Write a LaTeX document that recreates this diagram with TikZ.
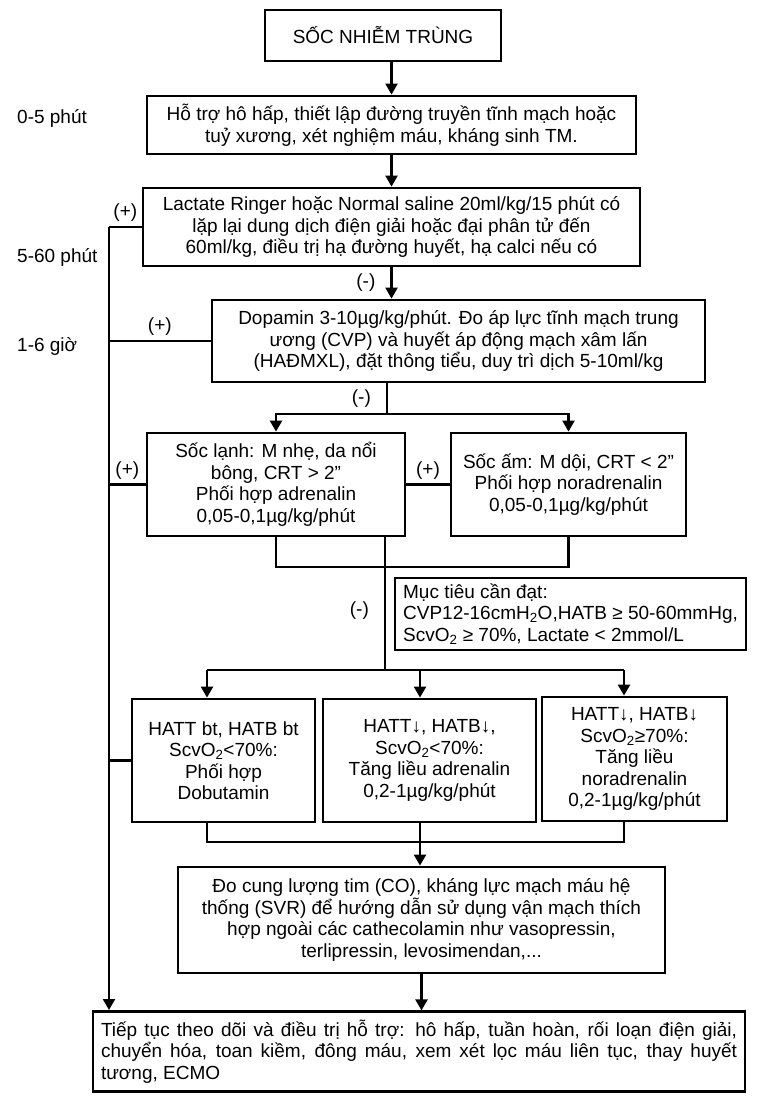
\documentclass[tikz,border=0pt]{standalone}
\usepackage{fontspec}
\setmainfont{Liberation Sans}
\usepackage{tikz}
\usetikzlibrary{arrows.meta}
\usetikzlibrary{calc}

\begin{document}
\begin{tikzpicture}[x=1pt,y=-1pt,
    font=\fontsize{19}{21.5}\selectfont,
    box/.style={draw,line width=2.8pt,align=center,inner sep=2pt},
    wire/.style={line width=2.3pt},
    lbl/.style={inner sep=2pt},
    >={Triangle[length=11pt,width=12pt]}]
    \useasboundingbox (0,0) rectangle (768,1105);
    \node [box,minimum width=236pt,minimum height=51pt] (sn) at (383,35.5) {SỐC NHIỄM TRÙNG};
    \node [box,minimum width=489pt,minimum height=58pt] (hh) at (391.5,125) {Hỗ trợ hô hấp, thiết lập đường truyền tĩnh mạch hoặc\\ tuỷ xương, xét nghiệm máu, kháng sinh TM.};
    \node [box,minimum width=497pt,minimum height=78pt] (lr) at (391.5,227) {Lactate Ringer hoặc Normal saline 20ml/kg/15 phút có\\ lặp lại dung dịch điện giải hoặc đại phân tử đến\\ 60ml/kg, điều trị hạ đường huyết, hạ calci nếu có};
    \node [box,minimum width=493pt,minimum height=82pt] (dp) at (458.5,341) {Dopamin 3-10µg/kg/phút. Đo áp lực tĩnh mạch trung\\ ương (CVP) và huyết áp động mạch xâm lấn\\ (HAĐMXL), đặt thông tiểu, duy trì dịch 5-10ml/kg};
    \node [box,minimum width=258pt,minimum height=103pt] (sl) at (276,484.5) {Sốc lạnh: M nhẹ, da nổi\\ bông, CRT > 2”\\ Phối hợp adrenalin\\ 0,05-0,1µg/kg/phút};
    \node [box,minimum width=235pt,minimum height=103pt] (sa) at (568.5,484.5) {Sốc ấm: M dội, CRT < 2”\\ Phối hợp noradrenalin\\ 0,05-0,1µg/kg/phút};
    \node [box,align=left,minimum width=351pt,minimum height=72pt] (mt) at (570.5,614) {Mục tiêu cần đạt:\\ CVP12-16cmH\textsubscript{2}O,HATB ≥ 50-60mmHg,\\ ScvO\textsubscript{2} ≥ 70\%, Lactate < 2mmol/L};
    \node [box,minimum width=183pt,minimum height=123pt] (h1) at (223.5,760.5) {HATT bt, HATB bt\\ ScvO\textsubscript{2}<70\%:\\ Phối hợp\\ Dobutamin};
    \node [box,minimum width=213pt,minimum height=123pt] (h2) at (429.5,760.5) {HATT↓, HATB↓,\\ ScvO\textsubscript{2}<70\%:\\ Tăng liều adrenalin\\ 0,2-1µg/kg/phút};
    \node [box,minimum width=185pt,minimum height=124pt] (h3) at (634.5,759) {HATT↓, HATB↓\\ ScvO\textsubscript{2}≥70\%:\\ Tăng liều\\ noradrenalin\\ 0,2-1µg/kg/phút};
    \node [box,minimum width=487pt,minimum height=106pt] (dl) at (421.5,920) {Đo cung lượng tim (CO), kháng lực mạch máu hệ\\ thống (SVR) để hướng dẫn sử dụng vận mạch thích\\ hợp ngoài các cathecolamin như vasopressin,\\ terlipressin, levosimendan,...};
    \node [box,align=justify,text width=636pt,inner sep=8pt,minimum height=75pt] (tt) at (419,1051.5) {Tiếp tục theo dõi và điều trị hỗ trợ: hô hấp, tuần hoàn, rối loạn điện giải,\linebreak chuyển hóa, toan kiềm, đông máu, xem xét lọc máu liên tục, thay huyết\linebreak tương, ECMO};
    \node [lbl,anchor=west] (t1) at (15,118) {0-5 phút};
    \node [lbl,anchor=west] (t2) at (15,257) {5-60 phút};
    \node [lbl,anchor=west] (t3) at (15,346) {1-6 giờ};
    \coordinate (tr) at (109,227);
    \coordinate (te) at (109,1010);
    \coordinate (k1) at (387,414);
    \coordinate (k2) at (385,567);
    \coordinate (k3) at (385,670);
    \coordinate (a1) at (207,670);
    \coordinate (a2) at (420,670);
    \coordinate (a3) at (624,670);
    \coordinate (c1) at (207,842);
    \coordinate (c2) at (420,842);
    \coordinate (c3) at (624,842);
    \draw [wire,->] (sn.south -| hh.north) -- (hh.north);
    \draw [wire,->] (hh.south) -- (lr.north);
    \draw [wire,->] (lr.south) -- node [lbl,left=13pt,midway] {(-)} (lr.south |- dp.north);
    \draw [wire] (dp.south -| k1) -- node [lbl,left=13pt,midway] {(-)} (k1);
    \draw [wire,->] (k1) -| (sl.north);
    \draw [wire,->] (k1) -| (sa.north);
    \draw [wire] (sl.east) -- node [lbl,above=2pt,midway] {(+)} (sa.west);
    \draw [wire] (sl.south) |- (k2) -| (sa.south);
    \draw [wire] (sl.south -| k2) -- node [lbl,left=13pt,pos=0.55] {(-)} (k3);
    \draw [wire] (a1) -- (a3);
    \draw [wire,->] (a1) -- (a1 |- h1.north);
    \draw [wire,->] (a2) -- (a2 |- h2.north);
    \draw [wire,->] (a3) -- (a3 |- h3.north);
    \draw [wire] (h1.south -| c1) -- (c1) -- (c3) -- (h3.south -| c3);
    \draw [wire,->] (h2.south -| c2) -- (c2 |- dl.north);
    \draw [wire,->] (dl.south) -- (dl.south |- tt.north);
    \draw [wire] (lr.west) -- node [lbl,above=2pt,midway] {(+)} (lr.west -| tr);
    \draw [wire] (dp.west) -- node [lbl,above=2pt,midway] {(+)} (dp.west -| tr);
    \draw [wire] (sl.west) -- node [lbl,above=2pt,midway] {(+)} (sl.west -| tr);
    \draw [wire] (h1.west) -- (h1.west -| tr);
    \draw [wire,->] (tr) -- (te);
\end{tikzpicture}
\end{document}
